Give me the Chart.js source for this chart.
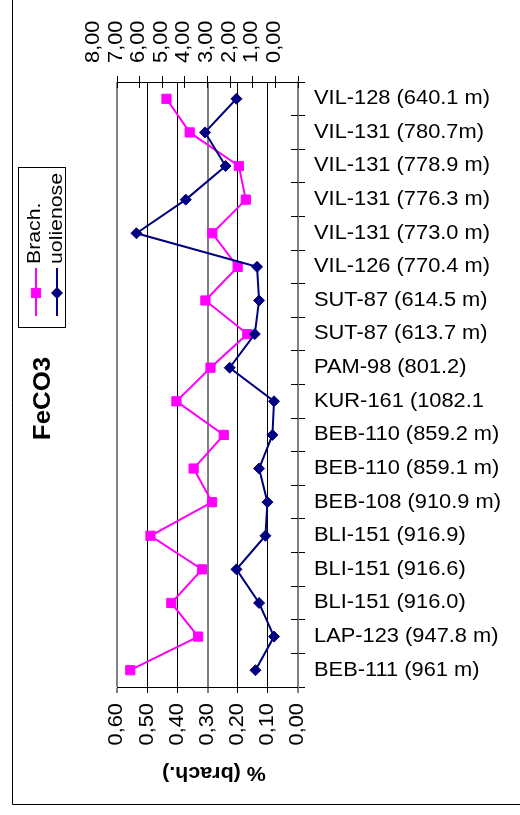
<!DOCTYPE html>
<html>
<head>
<meta charset="utf-8">
<script src="https://cdn.jsdelivr.net/npm/chart.js@4/dist/chart.umd.min.js"></script>
<style>
  html, body { margin: 0; padding: 0; background: #fff; }
  canvas { display: block; }
</style>
</head>
<body>
<canvas id="chart" width="520" height="815"></canvas>
<script>
// Sample names (wells and depths), listed top to bottom
const samples = [
  'VIL-128 (640.1 m)', 'VIL-131 (780.7m)', 'VIL-131 (778.9 m)', 'VIL-131 (776.3 m)',
  'VIL-131 (773.0 m)', 'VIL-126 (770.4 m)', 'SUT-87 (614.5 m)', 'SUT-87 (613.7 m)',
  'PAM-98 (801.2)', 'KUR-161 (1082.1', 'BEB-110 (859.2 m)', 'BEB-110 (859.1 m)',
  'BEB-108 (910.9 m)', 'BLI-151 (916.9)', 'BLI-151 (916.6)', 'BLI-151 (916.0)',
  'LAP-123 (947.8 m)', 'BEB-111 (961 m)'
];

// FeCO3 in brachiopod shells, % (lower axis)
const brach = [0.436, 0.359, 0.196, 0.173, 0.284, 0.200, 0.307, 0.168, 0.290,
               0.403, 0.246, 0.346, 0.285, 0.489, 0.318, 0.420, 0.331, 0.556];

// FeCO3 in the ooid rock, % (upper axis)
const uolienose = [2.72, 4.11, 3.20, 4.96, 7.14, 1.81, 1.72, 1.91, 3.02,
                   1.06, 1.13, 1.72, 1.35, 1.44, 2.72, 1.72, 1.06, 1.88];

// Tick values of both value axes
const brachTicks = [0, 0.1, 0.2, 0.3, 0.4, 0.5, 0.6];
const uolienoseTicks = [0, 1, 2, 3, 4, 5, 6, 7, 8];

const FONT = '"Liberation Sans", Arial, Helvetica, sans-serif';
const WIDE = 1.12;           // glyphs are drawn a little wider along the text
const PINK = '#FF00FF';
const NAVY = '#000080';
const comma = v => Number(v).toFixed(2).replace('.', ',');
const sameVal = (a, b) => Math.abs(a - b) < 1e-9;
const alignPx = p => Math.round(p - 0.5) + 0.5;

// Widens tick label glyphs along their reading direction
const wideLabels = {
  id: 'wideLabels',
  beforeDraw(chart) {
    Object.values(chart.scales).forEach(scale => {
      if (scale.$wide) return;
      const base = scale.drawLabels;
      scale.drawLabels = function (area) {
        const items = this.getLabelItems(area);
        if (!items.length) return base.call(this, area);
        const [tx, ty] = items[0].options.translation;
        const ctx = this.ctx;
        ctx.save();
        if (this.isHorizontal()) {
          ctx.translate(0, ty); ctx.scale(1, WIDE); ctx.translate(0, -ty);
        } else {
          ctx.translate(tx, 0); ctx.scale(WIDE, 1); ctx.translate(-tx, 0);
        }
        base.call(this, area);
        ctx.restore();
      };
      scale.$wide = true;
    });
  }
};

// Frame, rotated title, rotated legend, axis title and inner tick halves
const decor = {
  id: 'decor',
  afterDraw(chart) {
    const ctx = chart.ctx;
    const { x2, y } = chart.scales;
    ctx.save();

    // inner halves of the crossing tick marks
    ctx.strokeStyle = '#000';
    ctx.lineWidth = 1;
    ctx.beginPath();
    x2.ticks.forEach((t, i) => {
      const px = alignPx(x2.getPixelForTick(i));
      ctx.moveTo(px, x2.bottom);
      ctx.lineTo(px, x2.bottom + 6);
    });
    for (let i = 0; i <= samples.length; i++) {
      const py = alignPx(y.getPixelForValue(i - 0.5));
      ctx.moveTo(y.left, py);
      ctx.lineTo(y.left - 7, py);
    }
    ctx.stroke();

    // outer frame (left and bottom edges)
    ctx.beginPath();
    ctx.moveTo(12.5, 0);
    ctx.lineTo(12.5, 804.5);
    ctx.lineTo(520, 804.5);
    ctx.stroke();

    ctx.fillStyle = '#000';
    ctx.textBaseline = 'alphabetic';

    // chart title, reading bottom to top
    ctx.save();
    ctx.translate(50, 398.5);
    ctx.rotate(-Math.PI / 2);
    ctx.scale(1.1, 1);
    ctx.font = 'bold 23.5px ' + FONT;
    ctx.textAlign = 'center';
    ctx.fillText('FeCO3', 0, 0);
    ctx.restore();

    // value axis title, upside down below the axis
    ctx.save();
    ctx.translate(214, 767);
    ctx.rotate(Math.PI);
    ctx.scale(1.1, 1);
    ctx.font = 'bold 19.5px ' + FONT;
    ctx.textAlign = 'center';
    ctx.fillText('% (brach.)', 0, 0);
    ctx.restore();

    // legend box
    ctx.strokeRect(18.5, 167.5, 47, 160);
    const entries = chart.data.datasets.slice().sort((a, b) => a.legendIndex - b.legendIndex);
    const lx = [36, 57];
    const tx = [39.5, 62];
    entries.forEach((ds, i) => {
      ctx.strokeStyle = ds.borderColor;
      ctx.fillStyle = ds.backgroundColor;
      ctx.lineWidth = 2;
      ctx.beginPath();
      ctx.moveTo(lx[i], 268);
      ctx.lineTo(lx[i], 316);
      ctx.stroke();
      ctx.lineWidth = 1;
      Chart.helpers.drawPoint(ctx, {
        pointStyle: ds.pointStyle, radius: ds.pointRadius, rotation: 0, borderWidth: 1
      }, lx[i], 293);
      ctx.save();
      ctx.fillStyle = '#000';
      ctx.translate(tx[i], 264);
      ctx.rotate(-Math.PI / 2);
      ctx.scale(1.15, 1);
      ctx.font = '18.5px ' + FONT;
      ctx.textAlign = 'left';
      ctx.fillText(ds.label, 0, 0);
      ctx.restore();
    });

    ctx.restore();
  }
};

const tickFont = { family: FONT, size: 19.5 };
const greyAt = [0, 0.3, 0.6];

new Chart(document.getElementById('chart'), {
  type: 'line',
  data: {
    labels: samples,
    datasets: [
      {
        label: 'uolienose',
        legendIndex: 1,
        order: 0,
        data: uolienose,
        xAxisID: 'x2',
        yAxisID: 'y',
        borderColor: NAVY,
        backgroundColor: NAVY,
        borderWidth: 2,
        pointStyle: 'rectRot',
        pointRadius: 5.5,
        pointBorderWidth: 1,
        tension: 0
      },
      {
        label: 'Brach.',
        legendIndex: 0,
        order: 1,
        data: brach,
        xAxisID: 'x',
        yAxisID: 'y',
        borderColor: PINK,
        backgroundColor: PINK,
        borderWidth: 2,
        pointStyle: 'rect',
        pointRadius: 6.5,
        pointBorderWidth: 1,
        tension: 0
      }
    ]
  },
  options: {
    indexAxis: 'y',
    responsive: false,
    devicePixelRatio: 1,
    animation: false,
    events: [],
    layout: { padding: { left: 117, right: 0, top: 0, bottom: 0 } },
    plugins: {
      legend: { display: false },
      title: { display: false },
      tooltip: { enabled: false }
    },
    scales: {
      x: {
        type: 'linear',
        position: 'bottom',
        reverse: true,
        min: 0,
        max: 0.6,
        afterBuildTicks: s => { s.ticks = brachTicks.map(v => ({ value: v })); },
        afterFit: s => { s.height = 128; },
        ticks: {
          autoSkip: false,
          minRotation: 90,
          maxRotation: 90,
          padding: 10,
          color: '#000',
          font: tickFont,
          callback: v => comma(v)
        },
        grid: {
          drawOnChartArea: true,
          color: c => (c.tick && greyAt.some(g => sameVal(g, c.tick.value))) ? '#808080' : '#000',
          lineWidth: c => (c.tick && greyAt.some(g => sameVal(g, c.tick.value))) ? 2 : 1,
          tickLength: 6,
          tickColor: '#000',
          tickWidth: 1
        },
        border: { display: true, color: '#000', width: 1 }
      },
      x2: {
        type: 'linear',
        position: 'top',
        reverse: true,
        min: 0,
        max: 8,
        afterBuildTicks: s => { s.ticks = uolienoseTicks.map(v => ({ value: v })); },
        afterFit: s => { s.height = 82; },
        ticks: {
          autoSkip: false,
          minRotation: 90,
          maxRotation: 90,
          padding: 13,
          color: '#000',
          font: tickFont,
          callback: v => comma(v)
        },
        grid: {
          drawOnChartArea: false,
          color: '#000',
          tickLength: 6
        },
        border: { display: true, color: '#000', width: 1 }
      },
      y: {
        type: 'category',
        position: 'right',
        offset: true,
        afterFit: s => { s.width = 222; },
        ticks: {
          autoSkip: false,
          padding: 9,
          color: '#000',
          font: tickFont
        },
        grid: {
          offset: true,
          drawOnChartArea: false,
          color: '#000',
          tickLength: 7
        },
        border: { display: true, color: '#808080', width: 2 }
      }
    }
  },
  plugins: [wideLabels, decor]
});
</script>
</body>
</html>
